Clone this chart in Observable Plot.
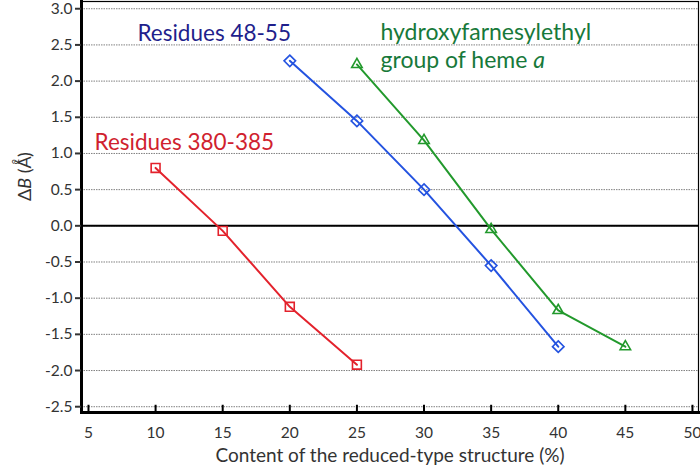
<!DOCTYPE html>
<html>
<head>
<meta charset="utf-8">
<script src="https://cdn.jsdelivr.net/npm/d3@7"></script>
<script src="https://cdn.jsdelivr.net/npm/@observablehq/plot@0.6"></script>
<style>
  html, body { margin: 0; padding: 0; background: white; }
</style>
</head>
<body>
<div id="chart"></div>
<script>
// ---- data ----
const res380Content = [10, 15, 20, 25];
const res380DeltaB  = [0.80, -0.07, -1.12, -1.92];

const res48Content = [20, 25, 30, 35, 40];
const res48DeltaB  = [2.28, 1.45, 0.50, -0.55, -1.67];

const hemeContent = [25, 30, 35, 40, 45];
const hemeDeltaB  = [2.23, 1.18, -0.05, -1.17, -1.67];

const xTicks = [5, 10, 15, 20, 25, 30, 35, 40, 45, 50];
const yTicks = [-2.5, -2.0, -1.5, -1.0, -0.5, 0.0, 0.5, 1.0, 1.5, 2.0, 2.5, 3.0];

const xTitle = "Content of the reduced-type structure (%)";
const yTitle = "ΔB (Å2)";
const label380 = "Residues 380-385";
const label48 = "Residues 48-55";
const labelHeme = "hydroxyfarnesylethyl\ngroup of heme a";

// ---- tables built from the arrays ----
const rows = (xs, ys) => xs.map((x, i) => ({x, y: ys[i]}));
const red = rows(res380Content, res380DeltaB);
const blue = rows(res48Content, res48DeltaB);
const green = rows(hemeContent, hemeDeltaB);

const cRed = "#e3222c", cBlue = "#2453e0", cGreen = "#22992c";
const tRed = "#d01f2f", tBlue = "#1f1f8c", tGreen = "#17793a";

const yDom = [-2.58, 3.1];

const chart = Plot.plot({
  width: 700,
  height: 471,
  marginLeft: 81,
  marginRight: 2,
  marginTop: 1,
  marginBottom: 59,
  style: {fontFamily: "Lato, sans-serif", fontSize: "15px", color: "#333", background: "white", overflow: "visible"},
  x: {domain: [4.48, 50.45]},
  y: {domain: yDom},
  marks: [
    Plot.ruleY(yTicks, {stroke: "#808080", strokeDasharray: "1.5,1", strokeWidth: 1}),
    Plot.ruleY([0], {stroke: "black", strokeWidth: 2}),
    Plot.frame({stroke: "black", strokeWidth: 1.2}),
    Plot.frame({anchor: "left", stroke: "black", strokeWidth: 3}),
    Plot.frame({anchor: "bottom", stroke: "black", strokeWidth: 3}),
    Plot.axisY({ticks: yTicks, tickFormat: d => d.toFixed(1), tickSize: 6, tickPadding: 3, label: null, strokeWidth: 2, fontSize: 15.5}),
    Plot.axisX({ticks: xTicks, tickSize: 0, tickPadding: 14, label: null, fontSize: 15.5}),
    Plot.ruleX(xTicks, {y1: yDom[0], y2: yDom[0] + 0.1, stroke: "black", strokeWidth: 2}),

    Plot.line(red, {x: "x", y: "y", stroke: cRed, strokeWidth: 2}),
    Plot.line(blue, {x: "x", y: "y", stroke: cBlue, strokeWidth: 2}),
    Plot.line(green, {x: "x", y: "y", stroke: cGreen, strokeWidth: 2}),
    Plot.dot(red, {x: "x", y: "y", symbol: "square", r: 5, stroke: cRed, fill: "none", strokeWidth: 1.6}),
    Plot.dot(blue, {x: "x", y: "y", symbol: "diamond2", r: 5.2, stroke: cBlue, fill: "none", strokeWidth: 1.6}),
    Plot.dot(green, {x: "x", y: "y", symbol: "triangle2", r: 5, stroke: cGreen, fill: "none", strokeWidth: 1.6}),

    Plot.text([label48], {x: 8.65, y: 2.66, text: d => d, textAnchor: "start", lineAnchor: "middle", fill: tBlue, fontSize: 22.5}),
    Plot.text([label380], {x: 5.45, y: 1.15, text: d => d, textAnchor: "start", lineAnchor: "middle", fill: tRed, fontSize: 22.5}),
    Plot.text([labelHeme], {x: 26.76, y: 2.66, text: d => d, textAnchor: "start", lineAnchor: "top", dy: -13, lineHeight: 1.22, fill: tGreen, fontSize: 23}),

    Plot.text([yTitle], {frameAnchor: "left", rotate: -90, dx: -56, dy: -6, text: d => d, fontSize: 18, fill: "#333"}),
    Plot.text([xTitle], {frameAnchor: "bottom", dy: 49, text: d => d, fontSize: 19, fill: "#333"})
  ]
});

// text details (post-process text nodes)
const NS = "http://www.w3.org/2000/svg";
function span(parent, s, attrs) {
  const ts = document.createElementNS(NS, "tspan");
  ts.textContent = s;
  for (const k in attrs || {}) ts.setAttribute(k, attrs[k]);
  parent.appendChild(ts);
}
for (const t of chart.querySelectorAll("text")) {
  if (t.textContent === yTitle) {
    t.textContent = "";
    span(t, "Δ");
    span(t, "B", {"font-style": "italic"});
    span(t, " (Å");
    span(t, "2", {"font-size": "9px", dx: "-8", dy: "-12"});
    span(t, ")", {dx: "2", dy: "12"});
  }
}
for (const ts of chart.querySelectorAll("tspan")) {
  if (ts.textContent === "group of heme a") {
    ts.textContent = "group of heme ";
    span(ts, "a", {"font-style": "italic"});
  }
}

document.getElementById("chart").appendChild(chart);
</script>
</body>
</html>
